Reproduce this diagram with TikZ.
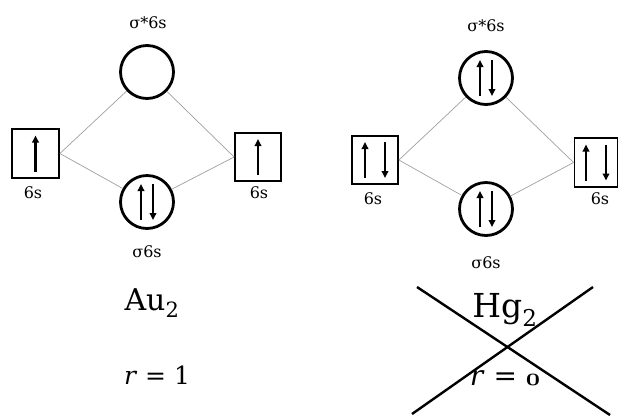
\documentclass[tikz,border=0pt]{standalone}
\usepackage{fontspec}
\setmainfont{DejaVu Serif}
\usetikzlibrary{arrows.meta}
\tikzset{
  orb/.style={circle,draw,line width=2.8pt,minimum size=53pt,inner sep=0pt},
  aobox/.style={rectangle,draw,line width=1.8pt,inner sep=0pt},
  lab/.style={font=\fontsize{16}{18}\selectfont,inner sep=0pt},
  conn/.style={draw=gray!75,line width=0.7pt},
  spin/.style={line width=2.4pt,-{Triangle[length=7pt,width=6.5pt]}},
  big/.style={inner sep=0pt},
  cross/.style={line width=2.4pt}
}
\newcommand\upspin[3]{\draw[spin] ([xshift=#2,yshift=-#3]#1.center) -- ([xshift=#2,yshift=#3]#1.center);}
\newcommand\downspin[3]{\draw[spin] ([xshift=#2,yshift=#3]#1.center) -- ([xshift=#2,yshift=-#3]#1.center);}
\begin{document}
\begin{tikzpicture}[x=1pt,y=-1pt]
\useasboundingbox (0,0) rectangle (618,416);
% ---- Au2 diagram
\node[aobox,minimum width=47pt,minimum height=49pt] (lb) at (35.5,153.5) {};
\node[lab] (lbl) at (33,193) {6s};
\node[orb] (t1) at (147,72) {};
\node[lab] (t1l) at (148,23) {σ*6s};
\node[orb] (b1) at (147,202) {};
\node[lab] (b1l) at (147,252) {σ6s};
\node[aobox,minimum width=46pt,minimum height=48pt] (rb) at (258,157) {};
\node[lab] (rbl) at (259,193) {6s};
\draw[conn] (lb.east) -- (t1);
\draw[conn] (lb.east) -- (b1);
\draw[conn] (rb.west) -- (t1);
\draw[conn] (rb.west) -- (b1);
\upspin{lb}{0pt}{18pt}
\upspin{rb}{0pt}{18pt}
\upspin{b1}{-6pt}{18pt}
\downspin{b1}{6pt}{18pt}
% ---- Hg2 diagram
\node[aobox,minimum width=46pt,minimum height=48pt] (lb2) at (375,160) {};
\node[lab] (lb2l) at (373,199) {6s};
\node[orb] (t2) at (486,78) {};
\node[lab] (t2l) at (486,26) {σ*6s};
\node[orb] (b2) at (486,209) {};
\node[lab] (b2l) at (486,263) {σ6s};
\node[aobox,minimum width=43pt,minimum height=49pt] (rb2) at (596,162.5) {};
\node[lab] (rb2l) at (600,199) {6s};
\draw[conn] (lb2.east) -- (t2);
\draw[conn] (lb2.east) -- (b2);
\draw[conn] (rb2.west) -- (t2);
\draw[conn] (rb2.west) -- (b2);
\upspin{lb2}{-10pt}{18pt}
\downspin{lb2}{10pt}{18pt}
\upspin{rb2}{-10pt}{18pt}
\downspin{rb2}{10pt}{18pt}
\upspin{t2}{-6pt}{18pt}
\downspin{t2}{6pt}{18pt}
\upspin{b2}{-6pt}{18pt}
\downspin{b2}{6pt}{18pt}
% ---- bottom texts
\node[big,font=\fontsize{30}{34}\selectfont] (au) at (152,303) {Au\textsubscript{2}};
\node[big,font=\fontsize{25}{28}\selectfont] (r1) at (157,375) {\textit{r} = 1};
\node[big,font=\fontsize{33}{38}\selectfont] (hg) at (505,310) {Hg\textsubscript{2}};
\node[big,font=\fontsize{28}{32}\selectfont] (r0) at (505,378) {\textit{r} = {\boldmath$\mathchar"0130$}};
\coordinate (x1a) at (417,287);
\coordinate (x1b) at (610,415);
\coordinate (x2a) at (593,287);
\coordinate (x2b) at (412,414);
\draw[cross] (x1a) -- (x1b);
\draw[cross] (x2a) -- (x2b);
\end{tikzpicture}
\end{document}
